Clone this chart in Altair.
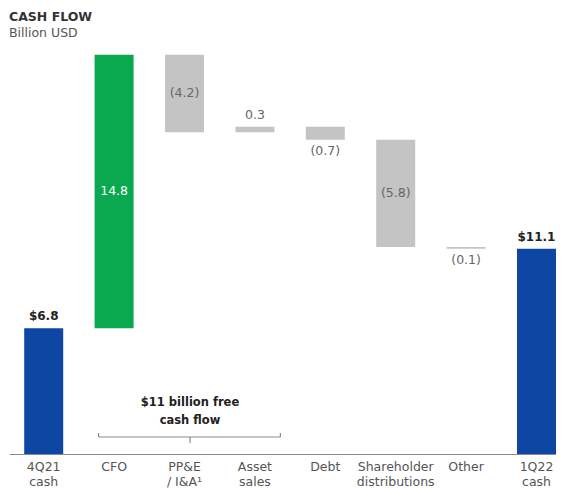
import altair as alt
import pandas as pd

categories = ["4Q21\ncash", "CFO", "PP&E\n/ I&A¹", "Asset\nsales", "Debt",
              "Shareholder\ndistributions", "Other", "1Q22\ncash"]
values = [6.8, 14.8, -4.2, 0.3, -0.7, -5.8, -0.1, 11.1]
kinds = ["total", "up", "down", "down", "down", "down", "down", "total"]
labels = ["$6.8", "14.8", "(4.2)", "0.3", "(0.7)", "(5.8)", "(0.1)", "$11.1"]
placement = ["above", "inside", "inside", "above", "below", "inside", "below", "above"]

fcf_text = ["$11 billion free", "cash flow"]
fcf_from, fcf_to, fcf_mid = "CFO", "Asset\nsales", "PP&E\n/ I&A¹"

# waterfall start/end from values
starts, ends = [], []
running = 0.0
for k, v in zip(kinds, values):
    if k == "total":
        starts.append(0.0)
        ends.append(v)
        running = v
    else:
        starts.append(running)
        running = round(running + v, 2)
        ends.append(running)

df = pd.DataFrame({
    "cat": categories, "value": values, "kind": kinds,
    "start": starts, "end": ends, "label": labels, "place": placement,
})
df["top"] = df[["start", "end"]].max(axis=1)
df["bottom"] = df[["start", "end"]].min(axis=1)
df["mid"] = (df["top"] + df["bottom"]) / 2

FONT = "DejaVu Sans"

xscale = alt.Scale(domain=categories, paddingInner=0.446, paddingOuter=0.108, align=1)
yscale = alt.Scale(domain=[0, 22.5], nice=False, zero=True)

x = alt.X("cat:N", scale=xscale, sort=categories, title=None,
          axis=alt.Axis(labelExpr="split(datum.label, '\\n')", labelAngle=0,
                        labelFont=FONT, labelFontSize=12.5, labelColor="#555555",
                        labelLineHeight=15, labelPadding=6, labelBaseline="top",
                        ticks=False, domainColor="#8a8a8a", domainWidth=1.2,
                        labelOverlap=False))
xs = alt.X("cat:N", scale=xscale, sort=categories)

base = alt.Chart(df)

bars = base.mark_bar(size=39).encode(
    x=x,
    y=alt.Y("start:Q", scale=yscale, axis=None),
    y2="end:Q",
    color=alt.Color("kind:N", legend=None,
                    scale=alt.Scale(domain=["total", "up", "down"],
                                    range=["#0e46a3", "#0aa84f", "#c4c4c4"])),
)

lab_total = base.transform_filter("datum.place == 'above' && datum.kind == 'total'").mark_text(
    baseline="bottom", dy=-5, font=FONT, fontSize=12, fontWeight="bold", color="#222222").encode(
    x=xs, y=alt.Y("top:Q", scale=yscale), text="label:N")
lab_above = base.transform_filter("datum.place == 'above' && datum.kind != 'total'").mark_text(
    baseline="bottom", dy=-5, font=FONT, fontSize=12.5, color="#666666").encode(
    x=xs, y=alt.Y("top:Q", scale=yscale), text="label:N")
lab_in_up = base.transform_filter("datum.place == 'inside' && datum.kind == 'up'").mark_text(
    baseline="middle", font=FONT, fontSize=12.5, color="#ffffff").encode(
    x=xs, y=alt.Y("mid:Q", scale=yscale), text="label:N")
lab_in_down = base.transform_filter("datum.place == 'inside' && datum.kind != 'up'").mark_text(
    baseline="middle", font=FONT, fontSize=12.5, color="#666666").encode(
    x=xs, y=alt.Y("mid:Q", scale=yscale), text="label:N")
lab_below = base.transform_filter("datum.place == 'below'").mark_text(
    baseline="top", dy=5, font=FONT, fontSize=12.5, color="#666666").encode(
    x=xs, y=alt.Y("bottom:Q", scale=yscale), text="label:N")

ann = pd.DataFrame({"a": [fcf_from], "b": [fcf_to], "m": [fcf_mid],
                    "t": ["|".join(fcf_text)]})
annb = alt.Chart(ann)
BR_Y = 399
GREY = "#8a8a8a"
bracket = annb.mark_rule(color=GREY, strokeWidth=1.2, xOffset=-15.5, x2Offset=25.5).encode(
    x=alt.X("a:N", scale=xscale, sort=categories),
    x2="b:N",
    y=alt.value(BR_Y),
)
tick_l = annb.mark_rule(color=GREY, strokeWidth=1.2, xOffset=-15.5).encode(
    x=alt.X("a:N", scale=xscale, sort=categories),
    y=alt.value(BR_Y - 4), y2=alt.value(BR_Y),
)
tick_r = annb.mark_rule(color=GREY, strokeWidth=1.2, xOffset=25.5).encode(
    x=alt.X("b:N", scale=xscale, sort=categories),
    y=alt.value(BR_Y - 4), y2=alt.value(BR_Y),
)
tick_m = annb.mark_rule(color=GREY, strokeWidth=1.2, xOffset=5.5).encode(
    x=alt.X("m:N", scale=xscale, sort=categories),
    y=alt.value(BR_Y), y2=alt.value(BR_Y + 6),
)
fcf = annb.transform_calculate(t2="split(datum.t, '|')").mark_text(
    font=FONT, fontSize=11.5, fontWeight="bold", color="#222222",
    baseline="top", lineHeight=18, xOffset=5.5).encode(
    x=alt.X("m:N", scale=xscale, sort=categories),
    y=alt.value(BR_Y - 40),
    text="t2:N",
)

chart = alt.layer(bars, lab_total, lab_above, lab_in_up, lab_in_down, lab_below,
                  bracket, tick_l, tick_r, tick_m, fcf).properties(
    width=547, height=416,
    autosize=alt.AutoSizeParams(type="none"),
    padding={"left": 1, "top": 30, "right": 0, "bottom": 35},
    title=alt.TitleParams(
        text="CASH FLOW", subtitle="Billion USD", anchor="start", frame="group",
        font=FONT, fontSize=12.5, fontWeight="bold", color="#333333",
        subtitleFont=FONT, subtitleFontSize=12.5, subtitleColor="#555555",
        subtitlePadding=3, offset=-1, orient="top",
    ),
).configure_view(stroke=None)

chart.save("out.html", embed_options={"renderer": "svg", "actions": False})
